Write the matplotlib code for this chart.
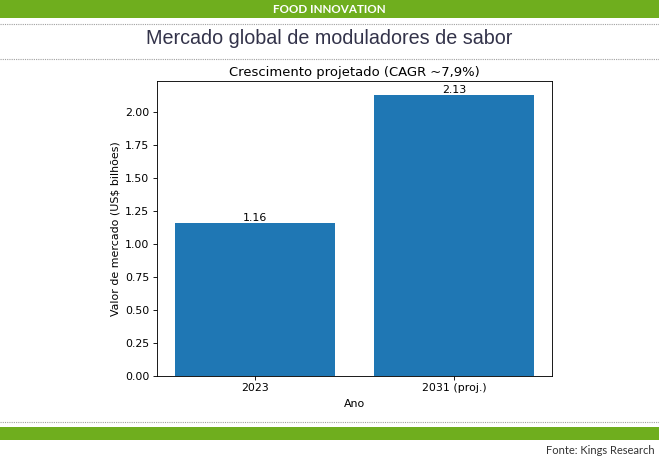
import matplotlib
matplotlib.use("Agg")
import matplotlib.pyplot as plt
from matplotlib.lines import Line2D
from matplotlib.patches import Rectangle

categories = ["2023", "2031 (proj.)"]
values = [1.16, 2.13]
value_labels = ["1.16", "2.13"]
yticks = [0.00, 0.25, 0.50, 0.75, 1.00, 1.25, 1.50, 1.75, 2.00]

W, H = 659, 457
s = 0.79  # chart scale factor
fig = plt.figure(figsize=(W / 100, H / 100), dpi=100)
fig.patch.set_facecolor("white")

green = "#6fae1e"

def fy(px):
    return 1 - px / H

# top banner
fig.patches.append(Rectangle((0, fy(18)), 1, 18 / H, transform=fig.transFigure,
                             facecolor=green, edgecolor="none", zorder=0))
fig.text(0.5, fy(9.5), "FOOD INNOVATION", ha="center", va="center", color="white",
         fontsize=8.4, fontweight="bold", family="Lato")
# dotted lines
for yy in (24, 59, 422):
    fig.lines.append(Line2D([0, 1], [fy(yy), fy(yy)], transform=fig.transFigure,
                            color="#a0a0a0", lw=0.8, linestyle=(0, (1, 1))))
fig.text(0.5, fy(38.5), "Mercado global de moduladores de sabor", ha="center", va="center",
         color="#33334a", fontsize=14.2, family="Liberation Sans")

# bottom band
fig.patches.append(Rectangle((0, fy(440)), 1, 13 / H, transform=fig.transFigure,
                             facecolor=green, edgecolor="none", zorder=0))
fig.text(655 / W, fy(451), "Fonte: Kings Research", ha="right", va="center",
         color="#333333", fontsize=8, family="Lato")

ax = fig.add_axes([157 / W, 1 - 375.5 / H, (552 - 157) / W, (375.5 - 81) / H])
x = list(range(len(categories)))
ax.bar(x, values, width=0.8, color="#1f77b4")
for xi, v, lab in zip(x, values, value_labels):
    ax.text(xi, v, lab, ha="center", va="bottom", fontsize=10 * s)
ax.set_xticks(x)
ax.set_xticklabels(categories, fontsize=10 * s)
ax.set_yticks(yticks)
ax.set_yticklabels([f"{t:.2f}" for t in yticks], fontsize=10 * s)
ax.tick_params(length=3.5 * s, width=0.8 * s, pad=3.5 * s)
for sp in ax.spines.values():
    sp.set_linewidth(0.8 * s)
ax.set_xlabel("Ano", fontsize=10 * s, labelpad=4 * s + 1.2)
ax.set_ylabel("Valor de mercado (US$ bilhões)", fontsize=10 * s, labelpad=4 * s)
ax.set_title("Crescimento projetado (CAGR ~7,9%)", fontsize=12 * s, pad=6 * s - 1.2)

fig.savefig("out.png", dpi=100)
